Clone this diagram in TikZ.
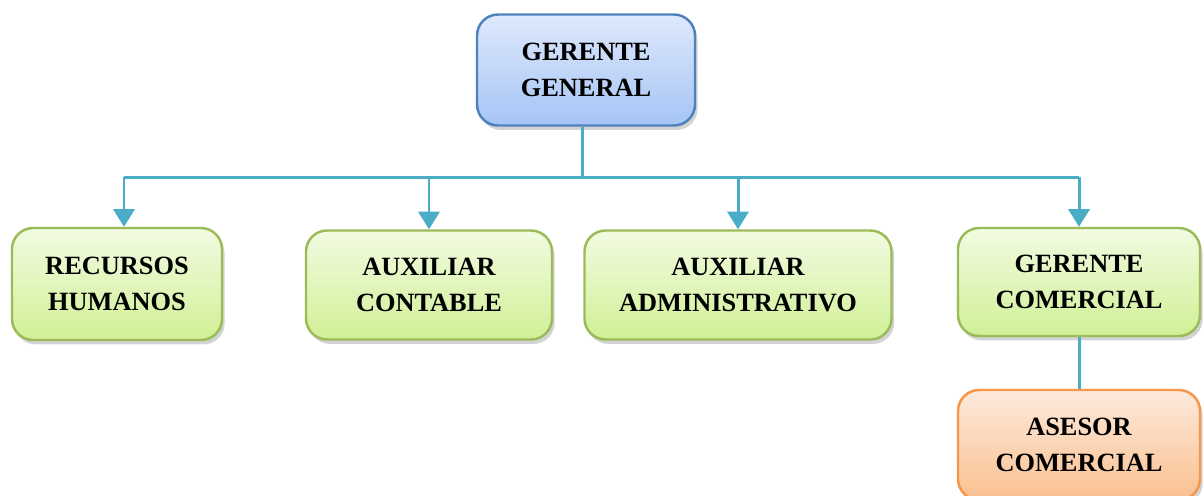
\documentclass[tikz,border=0pt]{standalone}
\usepackage{fontspec}
\setmainfont{Liberation Serif}
\usetikzlibrary{arrows.meta,shadows}

\definecolor{linea}{RGB}{75,172,198}
\definecolor{azulborde}{RGB}{79,129,189}
\definecolor{azularriba}{RGB}{222,233,252}
\definecolor{azulabajo}{RGB}{166,196,245}
\definecolor{verdeborde}{RGB}{155,187,89}
\definecolor{verdearriba}{RGB}{242,251,226}
\definecolor{verdeabajo}{RGB}{208,240,150}
\definecolor{naranjaborde}{RGB}{247,150,70}
\definecolor{naranjaarriba}{RGB}{253,234,220}
\definecolor{naranjaabajo}{RGB}{250,192,144}

\tikzset{
    caja/.style={rounded corners=12pt, line width=1.4pt, align=center,
        font=\bfseries\fontsize{15}{20.5}\selectfont,
        drop shadow={shadow xshift=1.5pt, shadow yshift=-2.5pt, opacity=0.35}},
    cajaazul/.style={caja, draw=azulborde, top color=azularriba, bottom color=azulabajo},
    cajaverde/.style={caja, draw=verdeborde, top color=verdearriba, bottom color=verdeabajo},
    cajanaranja/.style={caja, draw=naranjaborde, top color=naranjaarriba, bottom color=naranjaabajo},
    conector/.style={draw=linea, line width=1.7pt},
    flecha/.style={conector, -{Triangle[width=12pt,length=10pt]}}
}

\begin{document}
\begin{tikzpicture}[x=0.02cm, y=-0.02cm]
    \useasboundingbox (0,0) rectangle (1203,495);
    \clip (0,0) rectangle (1203,495);

    % Boxes
    \node[cajaazul, minimum width=218*0.02cm, minimum height=111*0.02cm] (GG) at (586,70) {GERENTE\\GENERAL};
    \node[cajaverde, minimum width=210*0.02cm, minimum height=112*0.02cm] (RH) at (117,284) {RECURSOS\\HUMANOS};
    \node[cajaverde, minimum width=246*0.02cm, minimum height=109*0.02cm] (AC) at (429,285) {AUXILIAR\\CONTABLE};
    \node[cajaverde, minimum width=307*0.02cm, minimum height=109*0.02cm] (AA) at (738,285) {AUXILIAR\\ADMINISTRATIVO};
    \node[cajaverde, minimum width=242*0.02cm, minimum height=108*0.02cm] (GC) at (1079,282) {GERENTE\\COMERCIAL};
    \node[cajanaranja, minimum width=242*0.02cm, minimum height=110*0.02cm] (AS) at (1079,445) {ASESOR\\COMERCIAL};

    % Connectors
    \coordinate (bus) at (582,177);
    \coordinate (RHin) at ([xshift=0.14cm]RH.north);
    \draw[conector] (GG.south -| bus) -- (bus);
    \draw[conector] (RHin |- bus) -- (GC.north |- bus);
    \draw[flecha] (RHin |- bus) -- (RHin);
    \foreach \caja in {AC, AA, GC}
        \draw[flecha] (\caja.north |- bus) -- (\caja.north);
    \draw[conector] (GC.south) -- (AS.north);
\end{tikzpicture}
\end{document}
